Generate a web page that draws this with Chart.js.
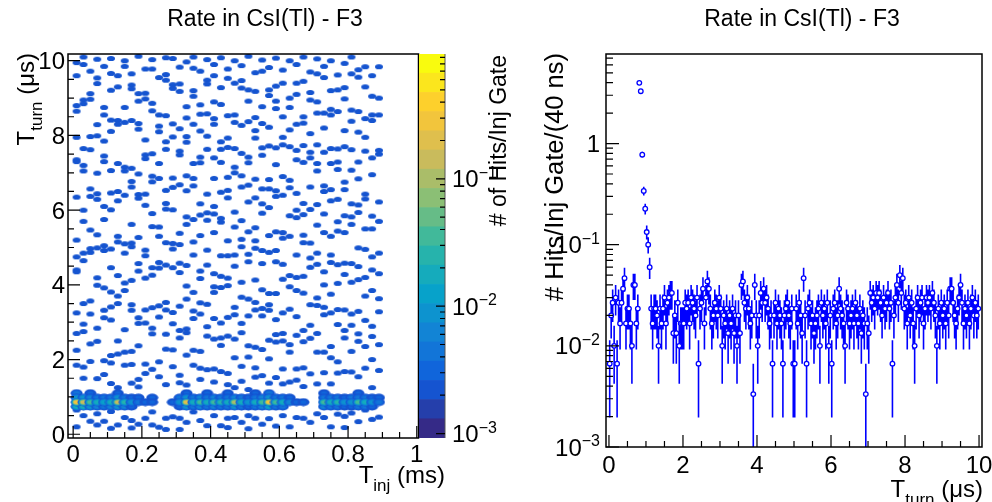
<!DOCTYPE html>
<html lang="en">
<head>
<meta charset="UTF-8">
<title>Rate in CsI(Tl) - F3</title>
<script src="https://cdn.jsdelivr.net/npm/chart.js@4.4.1/dist/chart.umd.min.js"></script>
<style>
  body { margin: 0; background: #fff; }
  #wrap { position: relative; width: 992px; height: 502px; overflow: hidden; background: #fff; }
  #wrap canvas { position: absolute; left: 0; top: 0; }
</style>
</head>
<body>
<div id="wrap">
  <canvas id="mapChart" width="992" height="502"></canvas>
  <canvas id="zChart" width="992" height="502"></canvas>
  <canvas id="turnChart" width="992" height="502"></canvas>
</div>
<script>
// ---------------- data ----------------
const plotTitle = 'Rate in CsI(Tl) - F3';

// left: T_turn vs T_inj map, 0.02 ms x-bins
const injBinCenters = [0.01, 0.03, 0.05, 0.07, 0.09, 0.11, 0.13, 0.15, 0.17, 0.19, 0.21, 0.23, 0.25, 0.27, 0.29,
  0.31, 0.33, 0.35, 0.37, 0.39, 0.41, 0.43, 0.45, 0.47, 0.49, 0.51, 0.53, 0.55, 0.57, 0.59,
  0.61, 0.63, 0.65, 0.67, 0.69, 0.71, 0.73, 0.75, 0.77, 0.79, 0.81, 0.83, 0.85, 0.87, 0.89];
const singleHitRate = 0.0025;
// T_turn (us) of the isolated cells, one list per x-bin
const singleHitTurns = [
  [9.95, 9.6, 8.8, 8.65, 7.95, 7.35, 7.3, 6.35, 5.2, 4.75, 4.4, 4.35, 3.25, 2.7, 2.25, 1.85, 0.65, 0.2],
  [10.1, 9.9, 8.95, 8.85, 7.65, 7.2, 7.05, 6.0, 5.7, 4.85, 4.65, 3.5, 2.95, 2.75, 1.8, 1.5, 0.5],
  [9.72, 9.12, 8.97, 7.97, 7.62, 6.57, 6.37, 5.47, 4.97, 4.87, 3.57, 3.22, 2.42, 1.95, 0.35],
  [10.04, 9.54, 9.39, 8.29, 7.99, 6.99, 6.44, 6.29, 5.34, 4.99, 4.19, 3.99, 2.84, 2.49, 1.49, 0.55, 0.25],
  [9.85, 8.75, 8.55, 7.85, 7.45, 7.3, 6.1, 5.75, 5.05, 4.92, 3.92, 3.32, 3.12, 1.97, 1.6, 0.35],
  [10.06, 9.66, 9.21, 8.41, 8.11, 7.06, 6.46, 6.01, 4.96, 4.46, 3.81, 3.41, 3.06, 2.11, 1.91, 1.36, 0.61, 0.16],
  [9.6, 9.3, 8.4, 8.3, 7.25, 6.5, 6.25, 5.3, 5.15, 4.25, 3.7, 3.5, 2.5, 2.15, 1.25, 0.25],
  [10.0, 9.85, 8.75, 8.35, 7.15, 7.05, 6.4, 5.1, 4.85, 4.05, 3.85, 2.8, 2.2, 1.85, 0.45],
  [9.65, 9.35, 9.25, 8.4, 7.12, 6.77, 6.62, 5.62, 5.12, 5.02, 4.12, 3.47, 3.32, 2.22, 1.87, 1.37, 0.37, 0.17],
  [10.12, 9.12, 8.92, 8.32, 8.17, 6.97, 6.42, 6.32, 5.27, 4.57, 4.37, 3.12, 2.97, 2.37, 1.47, 1.27, 0.27],
  [9.78, 9.13, 8.98, 7.88, 7.48, 7.38, 6.43, 6.13, 4.93, 4.78, 4.18, 3.33, 2.98, 1.88, 1.63, 0.43],
  [10.03, 9.78, 8.86, 8.66, 7.51, 6.91, 6.76, 5.91, 5.56, 4.46, 4.26, 3.39, 2.84, 2.69, 1.74, 0.6, 0.25],
  [9.55, 8.55, 8.25, 8.1, 7.25, 6.85, 5.55, 5.3, 4.6, 4.45, 3.44, 3.14, 1.94, 1.54, 0.19],
  [10.08, 9.63, 9.48, 8.53, 7.83, 7.63, 6.53, 6.18, 6.03, 5.13, 4.53, 3.53, 3.33, 2.68, 2.28, 1.33, 0.43, 0.13],
  [10.06, 9.36, 9.26, 8.31, 7.96, 6.86, 6.61, 6.01, 5.11, 4.96, 4.46, 3.26, 2.96, 2.26, 1.81, 0.47],
  [9.83, 9.38, 9.18, 8.18, 7.58, 7.48, 6.68, 5.38, 5.08, 4.58, 4.33, 3.43, 2.78, 2.58, 1.58, 1.38, 0.43, 0.13],
  [9.97, 8.77, 8.47, 7.97, 7.82, 6.92, 6.52, 5.82, 5.62, 4.52, 3.97, 3.62, 2.82, 2.72, 2.12, 1.32, 0.32],
  [10.1, 9.8, 9.2, 9.05, 8.3, 7.25, 6.85, 6.65, 5.75, 5.15, 4.8, 3.8, 3.3, 3.1, 2.25, 1.85, 0.6],
  [9.72, 8.82, 8.57, 8.12, 7.42, 7.27, 6.17, 5.87, 5.32, 4.37, 4.17, 3.52, 3.22, 2.22, 1.77, 1.47, 0.37],
  [10.03, 9.48, 9.38, 8.58, 7.98, 7.63, 6.43, 5.93, 5.73, 4.93, 4.53, 3.48, 2.88, 2.63, 1.73, 0.23],
  [9.9, 9.6, 8.9, 8.45, 8.3, 7.4, 6.85, 6.1, 5.9, 5.4, 4.3, 3.95, 3.8, 3.1, 2.55, 1.75, 1.4, 0.5],
  [10.08, 9.28, 8.83, 7.83, 7.63, 7.28, 6.48, 5.78, 5.68, 4.78, 4.23, 3.93, 2.98, 2.58, 2.38, 1.68, 0.23],
  [9.78, 9.53, 8.53, 7.93, 7.68, 6.88, 6.53, 6.33, 5.18, 4.78, 4.18, 3.98, 3.13, 2.63, 1.63, 1.33, 0.43, 0.18],
  [10.0, 9.4, 8.55, 8.35, 7.65, 7.15, 7.0, 5.95, 5.55, 4.8, 4.5, 3.4, 3.2, 2.55, 2.05, 1.25, 0.45],
  [9.87, 9.47, 9.27, 8.27, 7.52, 6.92, 6.62, 5.72, 5.22, 5.02, 4.07, 3.67, 2.97, 2.72, 1.82, 1.42, 0.32],
  [10.12, 9.22, 8.92, 8.37, 7.42, 7.27, 6.67, 6.22, 5.42, 4.82, 4.62, 3.62, 3.17, 2.37, 2.07, 1.2, 0.5, 0.15],
  [9.68, 9.18, 8.48, 8.13, 7.93, 6.83, 6.33, 5.53, 5.18, 4.98, 4.13, 3.53, 3.33, 2.33, 1.78, 1.53, 0.43],
  [10.02, 9.72, 8.77, 8.32, 7.67, 7.47, 6.57, 6.17, 5.92, 4.92, 4.57, 3.87, 3.37, 3.17, 2.27, 1.57, 0.27],
  [9.82, 9.22, 9.07, 8.22, 7.72, 6.82, 6.57, 6.07, 5.32, 4.87, 3.77, 3.47, 3.32, 2.52, 2.02, 1.37, 0.42],
  [10.07, 9.32, 8.92, 8.72, 7.67, 7.22, 6.52, 6.37, 5.42, 4.92, 4.62, 3.77, 3.07, 2.67, 2.47, 1.52, 0.22],
  [9.75, 9.4, 8.5, 7.95, 7.75, 6.9, 6.4, 5.4, 5.25, 4.55, 4.15, 3.25, 2.7, 2.5, 1.75, 1.35, 0.5],
  [10.0, 9.0, 8.75, 8.15, 7.7, 6.8, 6.6, 5.85, 5.3, 4.25, 3.95, 3.35, 2.4, 2.2, 1.4, 0.2],
  [9.9, 9.4, 9.1, 8.3, 7.6, 7.35, 6.45, 6.0, 5.8, 4.8, 4.2, 3.85, 3.15, 2.65, 1.75, 1.45, 0.45],
  [10.1, 9.45, 8.5, 8.33, 7.73, 7.28, 6.18, 5.88, 5.33, 5.13, 4.23, 3.78, 2.78, 2.48, 1.78, 1.28, 0.43],
  [9.7, 9.15, 8.95, 8.05, 7.55, 7.4, 6.62, 6.02, 5.12, 4.72, 4.47, 3.47, 2.92, 2.57, 1.62, 0.32],
  [10.05, 9.65, 8.9, 8.6, 7.75, 7.25, 7.05, 6.15, 5.6, 4.85, 4.55, 3.65, 3.45, 2.7, 2.2, 1.35, 0.55],
  [9.85, 9.55, 8.6, 8.2, 7.55, 6.65, 6.5, 5.9, 5.4, 4.35, 4.0, 3.4, 3.2, 2.2, 1.65, 0.45],
  [10.0, 9.2, 8.7, 8.55, 7.65, 7.25, 6.55, 6.25, 5.3, 4.8, 4.6, 3.75, 3.25, 2.35, 2.05, 1.35, 0.2],
  [9.62, 9.22, 8.64, 7.64, 7.29, 7.09, 6.29, 5.69, 5.44, 4.54, 4.04, 3.34, 2.94, 1.94, 1.64, 0.54],
  [9.93, 9.28, 8.98, 8.13, 7.7, 6.75, 6.55, 5.85, 5.4, 4.58, 4.28, 3.33, 2.78, 2.58, 1.68, 0.48, 0.18],
  [10.1, 9.65, 8.68, 8.38, 7.62, 7.07, 6.17, 5.82, 5.62, 4.57, 4.07, 3.22, 2.92, 2.22, 1.67, 0.57],
  [9.76, 9.56, 8.64, 8.09, 7.29, 6.84, 6.14, 5.94, 4.99, 4.49, 4.14, 3.29, 2.69, 2.49, 1.54, 0.34],
  [9.84, 9.3, 8.45, 7.95, 7.58, 6.43, 6.3, 5.5, 4.95, 4.2, 3.7, 3.05, 2.35, 1.77, 0.65],
  [9.6, 9.05, 8.55, 8.4, 7.4, 6.95, 5.84, 5.5, 4.75, 4.4, 3.85, 2.89, 2.62, 2.0, 1.25, 0.4],
  [9.84, 9.0, 8.55, 7.6, 7.5, 6.22, 5.7, 4.85, 4.3, 3.63, 3.28, 2.4, 1.71, 0.46]
];
// the prompt band around T_turn ~ 0.9 us: rate per x-bin in four rows
const bandTurns = [0.74, 0.86, 0.98, 1.1];
const bandLow = [0.02, 0.015, 0.008, 0.006, 0.004, 0.006, 0.01, 0.006, 0.003, 0, 0, 0, 0, 0, 0,
  0.003, 0.01, 0.005, 0.006, 0.004, 0.006, 0.005, 0.004, 0.008, 0.005, 0.003, 0.004, 0.006, 0.012, 0.005,
  0.004, 0, 0, 0, 0, 0, 0.006, 0.004, 0.005, 0.003, 0.003, 0.005, 0.004, 0.003, 0];
const bandMid = [0.3, 0.15, 0.03, 0.02, 0.012, 0.02, 0.15, 0.025, 0.01, 0.005, 0.003, 0.003, 0, 0, 0.003,
  0.01, 0.2, 0.02, 0.03, 0.02, 0.03, 0.025, 0.015, 0.1, 0.02, 0.01, 0.02, 0.03, 0.25, 0.03,
  0.02, 0.006, 0.003, 0.003, 0, 0, 0.04, 0.02, 0.025, 0.008, 0.01, 0.03, 0.02, 0.008, 0.005];
const bandHigh = [0.01, 0.008, 0.006, 0.005, 0.004, 0.005, 0.008, 0.005, 0.003, 0.003, 0, 0.003, 0, 0, 0,
  0.004, 0.008, 0.005, 0.006, 0.005, 0.006, 0.005, 0.004, 0.006, 0.005, 0.003, 0.005, 0.006, 0.008, 0.005,
  0.004, 0.003, 0, 0, 0, 0, 0.005, 0.005, 0.004, 0.003, 0.004, 0.005, 0.004, 0.003, 0.003];
const bandTop = [0.004, 0, 0.003, 0, 0, 0, 0.003, 0, 0, 0, 0, 0, 0, 0, 0,
  0, 0.003, 0, 0, 0.003, 0, 0, 0.003, 0, 0, 0, 0.003, 0, 0.004, 0,
  0, 0, 0, 0, 0, 0, 0.003, 0, 0, 0, 0, 0.003, 0, 0, 0];

// right: T_turn projection, hits per 40 ns bin, 300 injection gates
const nInjGates = 300;
const turnBinWidth = 0.04;
const turnHits = [
  2, 6, 8, 3, 9, 2, 8, 5, 8, 11, 14, 5, 7, 7, 5, 3, 12, 12, 5, 7,
  1194, 987, 233, 102, 68, 40, 30, 18,
  7, 5, 7, 7, 6, 3, 7, 5, 7, 9, 5, 8,
  9, 10, 10, 4, 6, 4, 8, 3, 5, 5,
  5, 8, 7, 8, 5, 9, 8, 7, 6, 9,
  2, 7, 8, 11, 5, 9, 13, 11, 7, 5,
  6, 8, 7, 6, 9, 7, 3, 6, 5, 7,
  4, 6, 5, 7, 4, 6, 3, 6, 4, 12,
  13, 8, 7, 9, 7, 5, 6, 1, 12, 6,
  3, 6, 10, 8, 11, 8, 9, 7, 5, 6,
  2, 6, 8, 5, 7, 6, 5, 2, 6, 7,
  8, 6, 5, 7, 2, 2, 7, 5, 8, 6,
  4, 14, 6, 2, 7, 8, 5, 6, 4, 5,
  6, 7, 3, 8, 6, 7, 5, 8, 3, 6,
  2, 7, 8, 5, 6, 11, 7, 6, 5, 3,
  8, 7, 5, 6, 7, 5, 8, 6, 5, 7,
  4, 6, 5, 1, 5, 4, 10, 8, 9, 7,
  10, 9, 10, 8, 6, 9, 7, 8, 10, 7,
  8, 2, 6, 9, 12, 8, 15, 10, 14, 7,
  8, 5, 9, 6, 8, 5, 3, 7, 9, 6,
  8, 9, 5, 7, 9, 8, 9, 7, 10, 8,
  6, 3, 7, 5, 8, 6, 7, 5, 8, 6,
  11, 11, 8, 6, 5, 7, 9, 12, 8, 5,
  7, 6, 8, 5, 7, 9, 6, 8, 6, 7
];

// axis ticks and labels
const injTicks = [0, 0.2, 0.4, 0.6, 0.8, 1];
const injTickLabels = ['0', '0.2', '0.4', '0.6', '0.8', '1'];
const turnTicks = [0, 2, 4, 6, 8, 10];
const turnTickLabels = ['0', '2', '4', '6', '8', '10'];
const rateDecades = [-3, -2, -1, 0];
const zDecades = [-3, -2, -1];

// ---------------- style ----------------
const FONT = '"Liberation Sans", Arial, Helvetica, sans-serif';
const zMin = Math.pow(10, -3.035), zMax = Math.pow(10, -0.02), nLevels = 20;
// ROOT kBird palette
const birdStops = [0, 0.125, 0.25, 0.375, 0.5, 0.625, 0.75, 0.875, 1];
const birdR = [0.2082, 0.0592, 0.0780, 0.0232, 0.1802, 0.5301, 0.8186, 0.9956, 0.9764];
const birdG = [0.1664, 0.3599, 0.5041, 0.6419, 0.7178, 0.7492, 0.7328, 0.7862, 0.9832];
const birdB = [0.5293, 0.8684, 0.8385, 0.7914, 0.6425, 0.4662, 0.3499, 0.1968, 0.0539];

function bird(f) {
  let k = 0;
  while (k < birdStops.length - 2 && f > birdStops[k + 1]) k++;
  const t = (f - birdStops[k]) / (birdStops[k + 1] - birdStops[k]);
  const c = a => Math.round(255 * (a[k] + (a[k + 1] - a[k]) * t));
  return 'rgb(' + c(birdR) + ',' + c(birdG) + ',' + c(birdB) + ')';
}
const levelColors = [];
const zLevels = [];
for (let i = 0; i <= nLevels; i++) {
  zLevels.push(Math.pow(10, Math.log10(zMin) + i * (Math.log10(zMax) - Math.log10(zMin)) / nLevels));
  if (i < nLevels) levelColors.push(bird(i / (nLevels - 1)));
}
function levelOf(z) {
  const f = (Math.log10(z) - Math.log10(zMin)) / (Math.log10(zMax) - Math.log10(zMin));
  return Math.max(0, Math.min(nLevels - 1, Math.floor(f * nLevels)));
}

// blobs used as point style on the map
const blobCache = {};
const baseLevel = levelOf(singleHitRate);
function ellipse(g, cx, cy, rx, ry, col) {
  g.fillStyle = col;
  g.beginPath(); g.ellipse(cx, cy, rx, ry, 0, 0, 2 * Math.PI); g.fill();
}
function blobFor(z) {
  const lv = levelOf(z);
  if (blobCache[lv]) return blobCache[lv];
  const steps = lv - baseLevel;
  const c = document.createElement('canvas');
  c.width = steps > 0 ? 13 : 10; c.height = steps > 0 ? 9 : 7;
  const g = c.getContext('2d');
  const cx = c.width / 2, cy = c.height / 2;
  if (steps <= 0) {
    ellipse(g, cx, cy, 4, 2.6, levelColors[lv]);
  } else {
    // nested contours from the outside in
    ellipse(g, cx, cy, 6, 3.9, levelColors[baseLevel]);
    const n = Math.min(steps, 4);
    for (let k = 1; k <= n; k++) {
      const f = 1 - 0.5 * k / n;
      ellipse(g, cx, cy, 6 * f, 3.9 * f, levelColors[baseLevel + Math.round(k * steps / n)]);
    }
  }
  blobCache[lv] = c;
  return c;
}

// ---------------- drawing helpers ----------------
function richText(ctx, parts, x, y, align, rotated) {
  ctx.save();
  ctx.translate(x, y);
  if (rotated) ctx.rotate(-Math.PI / 2);
  ctx.textAlign = 'left';
  ctx.textBaseline = 'alphabetic';
  ctx.fillStyle = '#000';
  let w = 0;
  for (const p of parts) { ctx.font = p[1] + 'px ' + FONT; w += ctx.measureText(p[0]).width; }
  let cx = align === 'right' ? -w : align === 'center' ? -w / 2 : 0;
  for (const p of parts) {
    ctx.font = p[1] + 'px ' + FONT;
    ctx.fillText(p[0], cx, p[2] || 0);
    cx += ctx.measureText(p[0]).width;
  }
  ctx.restore();
}
function powLabel(ctx, d, x, y, align) {
  if (d === 0) richText(ctx, [['1', 24]], x, y, align);
  else richText(ctx, [['10', 24], ['\u2212' + Math.abs(d), 16, -9.5]], x, y, align);
}
function drawFrame(ctx, a) {
  ctx.strokeStyle = '#000';
  ctx.lineWidth = 1.5;
  ctx.strokeRect(a.left, a.top, a.right - a.left, a.bottom - a.top);
}
function linTicks(ctx, scale, a, majors, nSub, horiz) {
  const step = (majors[1] - majors[0]) / nSub;
  ctx.beginPath();
  for (let i = 0; i < majors.length; i++) {
    const n = i < majors.length - 1 ? nSub : 1;
    for (let k = 0; k < n; k++) {
      const p = scale.getPixelForValue(majors[i] + k * step);
      const len = k === 0 ? 12 : 6;
      if (horiz) { ctx.moveTo(p, a.bottom); ctx.lineTo(p, a.bottom - len); }
      else { ctx.moveTo(a.left, p); ctx.lineTo(a.left + len, p); }
    }
  }
  ctx.strokeStyle = '#000';
  ctx.lineWidth = 1.2;
  ctx.stroke();
}
function logTicks(ctx, scale, decades, xEdge, dir, majLen, minLen) {
  ctx.beginPath();
  for (const d of decades) {
    for (let m = 1; m <= 9; m++) {
      const v = m * Math.pow(10, d);
      if (v < scale.min * 0.999 || v > scale.max) continue;
      const p = scale.getPixelForValue(v);
      ctx.moveTo(xEdge, p);
      ctx.lineTo(xEdge + dir * (m === 1 ? majLen : minLen), p);
    }
  }
  ctx.strokeStyle = '#000';
  ctx.lineWidth = 1.2;
  ctx.stroke();
}

// ---------------- left: map ----------------
const singleCells = [];
singleHitTurns.forEach((ys, c) => ys.forEach(y => singleCells.push({ x: injBinCenters[c], y: y, z: singleHitRate })));
const bandRows = [bandLow, bandMid, bandHigh, bandTop];
function bandCells(r) {
  const out = [];
  bandRows[r].forEach((z, c) => { if (z > 0) out.push({ x: injBinCenters[c], y: bandTurns[r], z: z }); });
  return out;
}
const blobStyle = ctx => blobFor(ctx.raw ? ctx.raw.z : singleHitRate);
const mapSet = data => ({ data: data, pointStyle: blobStyle, pointRadius: 3 });

const mapAxes = {
  id: 'mapAxes',
  afterDraw(chart) {
    const { ctx, chartArea: a, scales: { x, y } } = chart;
    drawFrame(ctx, a);
    linTicks(ctx, x, a, injTicks, 4, true);
    linTicks(ctx, y, a, turnTicks, 4, false);
    injTicks.forEach((v, i) => richText(ctx, [[injTickLabels[i], 24]], x.getPixelForValue(v), 462, 'center'));
    turnTicks.forEach((v, i) => richText(ctx, [[turnTickLabels[i], 24]], 65, y.getPixelForValue(v) + 8.5, 'right'));
    richText(ctx, [[plotTitle, 23]], 265, 26, 'center');
    richText(ctx, [['T', 24], ['inj', 17, 8], [' (ms)', 24]], 445, 483, 'right');
    richText(ctx, [['T', 24], ['turn', 17, 8], [' (\u03bcs)', 24]], 34, 53, 'right', true);
  }
};

// Chart.js paints the first dataset last, so the hottest row goes first
new Chart(document.getElementById('mapChart'), {
  type: 'scatter',
  data: {
    datasets: [mapSet(bandCells(1)), mapSet(bandCells(2)), mapSet(bandCells(0)),
      mapSet(bandCells(3)), mapSet(singleCells)]
  },
  options: {
    responsive: false, animation: false, events: [], devicePixelRatio: 1,
    layout: { padding: { left: 68, top: 54, right: 992 - 418.5, bottom: 502 - 438 } },
    plugins: { legend: { display: false }, tooltip: { enabled: false } },
    scales: {
      x: { type: 'linear', display: false, min: -0.015, max: 1.005 },
      y: { type: 'linear', display: false, min: -0.1, max: 10.18 }
    }
  },
  plugins: [mapAxes]
});

// ---------------- colour bar ----------------
const zAxis = {
  id: 'zAxis',
  afterDraw(chart) {
    const { ctx, chartArea: a, scales: { y } } = chart;
    ctx.strokeStyle = '#555';
    ctx.lineWidth = 1;
    ctx.beginPath(); ctx.moveTo(a.right, a.top); ctx.lineTo(a.right, a.bottom); ctx.stroke();
    logTicks(ctx, y, zDecades, a.right, -1, 9, 5);
    zDecades.forEach(d => powLabel(ctx, d, 452, y.getPixelForValue(Math.pow(10, d)) + 8.5, 'left'));
    richText(ctx, [['# of Hits/Inj Gate', 23]], 506, 55, 'right', true);
  }
};
new Chart(document.getElementById('zChart'), {
  type: 'bar',
  data: {
    labels: [''],
    datasets: levelColors.map((col, i) => ({
      data: [[zLevels[i], zLevels[i + 1]]], backgroundColor: col, borderWidth: 0,
      grouped: false, barPercentage: 1, categoryPercentage: 1
    }))
  },
  options: {
    responsive: false, animation: false, events: [], devicePixelRatio: 1,
    layout: { padding: { left: 419, top: 54, right: 992 - 445, bottom: 502 - 438 } },
    plugins: { legend: { display: false }, tooltip: { enabled: false } },
    scales: {
      x: { display: false },
      y: { type: 'logarithmic', display: false, min: zMin, max: zMax }
    }
  },
  plugins: [zAxis]
});

// ---------------- right: T_turn projection ----------------
const turnPoints = [];
turnHits.forEach((n, i) => {
  if (n > 0) turnPoints.push({ x: (i + 0.5) * turnBinWidth, y: n / nInjGates, e: Math.sqrt(n) / nInjGates });
});

const turnAxes = {
  id: 'turnAxes',
  beforeDatasetsDraw(chart) {
    const { ctx, chartArea: a, scales: { x, y } } = chart;
    ctx.save();
    ctx.beginPath(); ctx.rect(a.left, a.top, a.right - a.left, a.bottom - a.top); ctx.clip();
    ctx.strokeStyle = '#0000ff';
    ctx.lineWidth = 1.6;
    ctx.beginPath();
    turnPoints.forEach(p => {
      const px = x.getPixelForValue(p.x);
      const lo = p.y - p.e > y.min ? y.getPixelForValue(p.y - p.e) : a.bottom;
      const hi = y.getPixelForValue(p.y + p.e);
      ctx.moveTo(px, lo); ctx.lineTo(px, hi);
    });
    ctx.stroke();
    ctx.restore();
  },
  afterDraw(chart) {
    const { ctx, chartArea: a, scales: { x, y } } = chart;
    drawFrame(ctx, a);
    linTicks(ctx, x, a, turnTicks, 4, true);
    logTicks(ctx, y, rateDecades, a.left, 1, 13, 7);
    turnTicks.forEach((v, i) => richText(ctx, [[turnTickLabels[i], 24]], x.getPixelForValue(v), 473, 'center'));
    rateDecades.forEach(d => powLabel(ctx, d, 600, y.getPixelForValue(Math.pow(10, d)) + 8.5, 'right'));
    richText(ctx, [[plotTitle, 23]], 802, 26, 'center');
    richText(ctx, [['T', 24], ['turn', 17, 8], [' (\u03bcs)', 24]], 983, 497, 'right');
    richText(ctx, [['# Hits/Inj Gate/(40 ns)', 25.5]], 563, 53, 'right', true);
  }
};

new Chart(document.getElementById('turnChart'), {
  type: 'scatter',
  data: {
    datasets: [{
      data: turnPoints, showLine: false, pointStyle: 'circle',
      pointRadius: 2.3, pointBorderWidth: 1.3, pointBorderColor: '#0000ff', pointBackgroundColor: '#ffffff'
    }]
  },
  options: {
    responsive: false, animation: false, events: [], devicePixelRatio: 1,
    layout: { padding: { left: 606, top: 54, right: 992 - 982, bottom: 502 - 447 } },
    plugins: { legend: { display: false }, tooltip: { enabled: false } },
    scales: {
      x: { type: 'linear', display: false, min: -0.08, max: 10.08 },
      y: { type: 'logarithmic', display: false, min: 0.001, max: Math.pow(10, 0.885) }
    }
  },
  plugins: [turnAxes]
});
</script>
</body>
</html>
